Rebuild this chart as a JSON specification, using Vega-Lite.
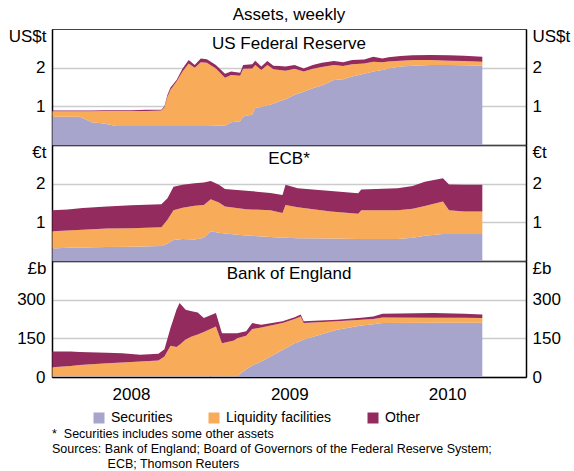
{
  "$schema": "https://vega.github.io/schema/vega-lite/v6.json",
  "autosize": {"type": "pad"},
  "padding": {"left": 7, "top": 5, "right": 0, "bottom": 0},
  "background": "white",
  "bounds": "flush",
  "spacing": 0,
  "config": {
    "font": "Liberation Sans",
    "view": {"stroke": "#444444", "strokeWidth": 1},
    "axis": {"labelFont": "Liberation Sans", "labelFontSize": 17, "labelColor": "black", "titleFont": "Liberation Sans", "titleFontSize": 17, "titleFontWeight": "normal", "titleColor": "black", "domainColor": "black", "domainWidth": 1.5, "tickColor": "black", "gridColor": "#cccccc", "gridWidth": 1.5},
    "title": {"font": "Liberation Sans", "fontWeight": "normal", "color": "black", "fontSize": 17, "subtitleFont": "Liberation Sans", "subtitleFontSize": 17, "subtitleColor": "black", "subtitleFontWeight": "normal"},
    "legend": {"labelFont": "Liberation Sans", "labelFontSize": 14, "labelColor": "black"}
  },
  "title": {
    "text": ["*\u00a0\u00a0Securities includes some other assets", "Sources: Bank of England; Board of Governors of the Federal Reserve System;", "\u200b\u00a0\u00a0\u00a0\u00a0\u00a0\u00a0\u00a0\u00a0\u00a0\u00a0\u00a0\u00a0\u00a0\u00a0\u00a0\u00a0ECB; Thomson Reuters"],
    "orient": "bottom", "anchor": "start", "frame": "group", "fontSize": 12.5, "lineHeight": 15, "dx": 0, "offset": 3
  },
  "datasets": {
    "order": [
      {"series": "Securities", "rank": 1},
      {"series": "Liquidity facilities", "rank": 2},
      {"series": "Other", "rank": 3}
    ],
    "fed": [
      {"date": "2008-01-02", "Securities": 0.73, "Liquidity facilities": 0.14, "Other": 0.02},
      {"date": "2008-03-05", "Securities": 0.73, "Liquidity facilities": 0.14, "Other": 0.02},
      {"date": "2008-04-02", "Securities": 0.59, "Liquidity facilities": 0.28, "Other": 0.02},
      {"date": "2008-04-30", "Securities": 0.556, "Liquidity facilities": 0.324, "Other": 0.02},
      {"date": "2008-05-28", "Securities": 0.49, "Liquidity facilities": 0.39, "Other": 0.02},
      {"date": "2008-07-02", "Securities": 0.49, "Liquidity facilities": 0.39, "Other": 0.02},
      {"date": "2008-08-06", "Securities": 0.49, "Liquidity facilities": 0.39, "Other": 0.03},
      {"date": "2008-09-10", "Securities": 0.49, "Liquidity facilities": 0.40, "Other": 0.02},
      {"date": "2008-09-17", "Securities": 0.49, "Liquidity facilities": 0.48, "Other": 0.03},
      {"date": "2008-09-24", "Securities": 0.49, "Liquidity facilities": 0.76, "Other": 0.05},
      {"date": "2008-10-01", "Securities": 0.49, "Liquidity facilities": 0.94, "Other": 0.06},
      {"date": "2008-10-15", "Securities": 0.49, "Liquidity facilities": 1.15, "Other": 0.04},
      {"date": "2008-10-29", "Securities": 0.49, "Liquidity facilities": 1.41, "Other": 0.08},
      {"date": "2008-11-12", "Securities": 0.49, "Liquidity facilities": 1.62, "Other": 0.09},
      {"date": "2008-11-26", "Securities": 0.49, "Liquidity facilities": 1.51, "Other": 0.07},
      {"date": "2008-12-10", "Securities": 0.49, "Liquidity facilities": 1.65, "Other": 0.10},
      {"date": "2008-12-24", "Securities": 0.49, "Liquidity facilities": 1.64, "Other": 0.09},
      {"date": "2009-01-14", "Securities": 0.50, "Liquidity facilities": 1.48, "Other": 0.09},
      {"date": "2009-02-04", "Securities": 0.50, "Liquidity facilities": 1.24, "Other": 0.10},
      {"date": "2009-02-18", "Securities": 0.59, "Liquidity facilities": 1.22, "Other": 0.09},
      {"date": "2009-03-11", "Securities": 0.615, "Liquidity facilities": 1.175, "Other": 0.08},
      {"date": "2009-03-18", "Securities": 0.74, "Liquidity facilities": 1.23, "Other": 0.10},
      {"date": "2009-04-08", "Securities": 0.79, "Liquidity facilities": 1.19, "Other": 0.11},
      {"date": "2009-04-15", "Securities": 0.96, "Liquidity facilities": 1.11, "Other": 0.11},
      {"date": "2009-04-29", "Securities": 0.98, "Liquidity facilities": 0.96, "Other": 0.09},
      {"date": "2009-05-13", "Securities": 1.03, "Liquidity facilities": 1.04, "Other": 0.10},
      {"date": "2009-05-27", "Securities": 1.07, "Liquidity facilities": 0.89, "Other": 0.09},
      {"date": "2009-06-10", "Securities": 1.13, "Liquidity facilities": 0.81, "Other": 0.10},
      {"date": "2009-06-24", "Securities": 1.18, "Liquidity facilities": 0.74, "Other": 0.11},
      {"date": "2009-07-15", "Securities": 1.30, "Liquidity facilities": 0.67, "Other": 0.10},
      {"date": "2009-08-05", "Securities": 1.38, "Liquidity facilities": 0.52, "Other": 0.08},
      {"date": "2009-08-26", "Securities": 1.47, "Liquidity facilities": 0.50, "Other": 0.10},
      {"date": "2009-09-16", "Securities": 1.54, "Liquidity facilities": 0.48, "Other": 0.11},
      {"date": "2009-10-14", "Securities": 1.68, "Liquidity facilities": 0.39, "Other": 0.10},
      {"date": "2009-11-04", "Securities": 1.70, "Liquidity facilities": 0.34, "Other": 0.10},
      {"date": "2009-11-25", "Securities": 1.77, "Liquidity facilities": 0.32, "Other": 0.11},
      {"date": "2009-12-23", "Securities": 1.84, "Liquidity facilities": 0.27, "Other": 0.10},
      {"date": "2010-01-13", "Securities": 1.90, "Liquidity facilities": 0.25, "Other": 0.13},
      {"date": "2010-02-03", "Securities": 1.94, "Liquidity facilities": 0.20, "Other": 0.10},
      {"date": "2010-02-17", "Securities": 1.98, "Liquidity facilities": 0.18, "Other": 0.11},
      {"date": "2010-03-17", "Securities": 2.03, "Liquidity facilities": 0.15, "Other": 0.12},
      {"date": "2010-04-14", "Securities": 2.05, "Liquidity facilities": 0.15, "Other": 0.12},
      {"date": "2010-05-26", "Securities": 2.07, "Liquidity facilities": 0.13, "Other": 0.13},
      {"date": "2010-07-07", "Securities": 2.07, "Liquidity facilities": 0.11, "Other": 0.14},
      {"date": "2010-08-11", "Securities": 2.06, "Liquidity facilities": 0.11, "Other": 0.14},
      {"date": "2010-09-22", "Securities": 2.05, "Liquidity facilities": 0.10, "Other": 0.13}
    ],
    "ecb": [
      {"date": "2008-01-02", "Securities": 0.325, "Liquidity facilities": 0.445, "Other": 0.54},
      {"date": "2008-02-06", "Securities": 0.34, "Liquidity facilities": 0.45, "Other": 0.54},
      {"date": "2008-03-12", "Securities": 0.35, "Liquidity facilities": 0.46, "Other": 0.56},
      {"date": "2008-05-07", "Securities": 0.36, "Liquidity facilities": 0.48, "Other": 0.57},
      {"date": "2008-07-02", "Securities": 0.37, "Liquidity facilities": 0.48, "Other": 0.59},
      {"date": "2008-09-10", "Securities": 0.385, "Liquidity facilities": 0.485, "Other": 0.60},
      {"date": "2008-09-24", "Securities": 0.45, "Liquidity facilities": 0.62, "Other": 0.55},
      {"date": "2008-10-08", "Securities": 0.54, "Liquidity facilities": 0.77, "Other": 0.61},
      {"date": "2008-10-29", "Securities": 0.57, "Liquidity facilities": 0.81, "Other": 0.59},
      {"date": "2008-11-26", "Securities": 0.556, "Liquidity facilities": 0.874, "Other": 0.58},
      {"date": "2008-12-17", "Securities": 0.60, "Liquidity facilities": 0.85, "Other": 0.58},
      {"date": "2009-01-02", "Securities": 0.77, "Liquidity facilities": 0.83, "Other": 0.47},
      {"date": "2009-01-21", "Securities": 0.73, "Liquidity facilities": 0.78, "Other": 0.46},
      {"date": "2009-02-04", "Securities": 0.71, "Liquidity facilities": 0.70, "Other": 0.45},
      {"date": "2009-03-25", "Securities": 0.66, "Liquidity facilities": 0.68, "Other": 0.48},
      {"date": "2009-05-20", "Securities": 0.62, "Liquidity facilities": 0.69, "Other": 0.45},
      {"date": "2009-06-17", "Securities": 0.60, "Liquidity facilities": 0.64, "Other": 0.47},
      {"date": "2009-06-24", "Securities": 0.60, "Liquidity facilities": 0.85, "Other": 0.52},
      {"date": "2009-07-22", "Securities": 0.59, "Liquidity facilities": 0.80, "Other": 0.49},
      {"date": "2009-10-07", "Securities": 0.58, "Liquidity facilities": 0.70, "Other": 0.53},
      {"date": "2009-12-09", "Securities": 0.57, "Liquidity facilities": 0.65, "Other": 0.53},
      {"date": "2009-12-16", "Securities": 0.57, "Liquidity facilities": 0.74, "Other": 0.54},
      {"date": "2010-03-10", "Securities": 0.57, "Liquidity facilities": 0.74, "Other": 0.57},
      {"date": "2010-04-14", "Securities": 0.60, "Liquidity facilities": 0.75, "Other": 0.59},
      {"date": "2010-05-12", "Securities": 0.65, "Liquidity facilities": 0.77, "Other": 0.63},
      {"date": "2010-06-23", "Securities": 0.70, "Liquidity facilities": 0.84, "Other": 0.60},
      {"date": "2010-07-07", "Securities": 0.70, "Liquidity facilities": 0.61, "Other": 0.67},
      {"date": "2010-08-11", "Securities": 0.70, "Liquidity facilities": 0.58, "Other": 0.69},
      {"date": "2010-09-22", "Securities": 0.70, "Liquidity facilities": 0.58, "Other": 0.69}
    ],
    "boe": [
      {"date": "2008-01-02", "Securities": 3, "Liquidity facilities": 35, "Other": 61},
      {"date": "2008-02-13", "Securities": 3, "Liquidity facilities": 40, "Other": 56},
      {"date": "2008-03-05", "Securities": 3, "Liquidity facilities": 44, "Other": 50},
      {"date": "2008-05-07", "Securities": 3, "Liquidity facilities": 50, "Other": 41},
      {"date": "2008-06-11", "Securities": 3, "Liquidity facilities": 53, "Other": 36},
      {"date": "2008-07-23", "Securities": 3, "Liquidity facilities": 57, "Other": 26},
      {"date": "2008-09-03", "Securities": 3, "Liquidity facilities": 61, "Other": 26},
      {"date": "2008-09-17", "Securities": 3, "Liquidity facilities": 77, "Other": 28},
      {"date": "2008-10-01", "Securities": 3, "Liquidity facilities": 118, "Other": 69},
      {"date": "2008-10-15", "Securities": 3, "Liquidity facilities": 113, "Other": 146},
      {"date": "2008-10-22", "Securities": 3, "Liquidity facilities": 122, "Other": 162},
      {"date": "2008-11-05", "Securities": 3, "Liquidity facilities": 142, "Other": 116},
      {"date": "2008-11-19", "Securities": 3, "Liquidity facilities": 154, "Other": 98},
      {"date": "2008-12-03", "Securities": 3, "Liquidity facilities": 162, "Other": 85},
      {"date": "2008-12-17", "Securities": 3, "Liquidity facilities": 172, "Other": 54},
      {"date": "2009-01-14", "Securities": 3, "Liquidity facilities": 193, "Other": 52},
      {"date": "2009-01-28", "Securities": 3, "Liquidity facilities": 128, "Other": 39},
      {"date": "2009-02-25", "Securities": 3, "Liquidity facilities": 139, "Other": 28},
      {"date": "2009-03-04", "Securities": 3, "Liquidity facilities": 147, "Other": 20},
      {"date": "2009-03-25", "Securities": 30, "Liquidity facilities": 130, "Other": 17},
      {"date": "2009-04-08", "Securities": 45, "Liquidity facilities": 141, "Other": 23},
      {"date": "2009-04-29", "Securities": 60, "Liquidity facilities": 132, "Other": 11},
      {"date": "2009-06-17", "Securities": 105, "Liquidity facilities": 104, "Other": 7},
      {"date": "2009-07-15", "Securities": 131, "Liquidity facilities": 94, "Other": 7},
      {"date": "2009-07-29", "Securities": 140, "Liquidity facilities": 95, "Other": 7},
      {"date": "2009-08-05", "Securities": 145, "Liquidity facilities": 64, "Other": 7},
      {"date": "2009-10-21", "Securities": 183, "Liquidity facilities": 33, "Other": 6},
      {"date": "2009-12-16", "Securities": 200, "Liquidity facilities": 22, "Other": 8},
      {"date": "2010-01-13", "Securities": 205, "Liquidity facilities": 20, "Other": 10},
      {"date": "2010-02-03", "Securities": 209, "Liquidity facilities": 22, "Other": 14},
      {"date": "2010-06-02", "Securities": 210, "Liquidity facilities": 20, "Other": 18},
      {"date": "2010-08-11", "Securities": 210, "Liquidity facilities": 20, "Other": 15},
      {"date": "2010-09-22", "Securities": 210, "Liquidity facilities": 19, "Other": 13}
    ]
  },
  "resolve": {"scale": {"color": "shared"}, "legend": {"color": "shared"}},
  "vconcat": [
    {
      "width": 474, "height": 116,
      "data": {"name": "fed"},
      "transform": [
        {"fold": ["Securities", "Liquidity facilities", "Other"], "as": ["series", "value"]},
        {"lookup": "series", "from": {"data": {"name": "order"}, "key": "series", "fields": ["rank"]}}
      ],
      "title": {"text": "Assets, weekly", "subtitle": "US Federal Reserve", "subtitlePadding": 12, "anchor": "middle", "frame": "group", "offset": -26},
      "encoding": {
        "x": {"field": "date", "type": "temporal", "scale": {"type": "utc", "nice": false, "domain": [{"year": 2008, "month": 1, "date": 1, "utc": true}, {"year": 2011, "month": 1, "date": 1, "utc": true}]}, "axis": {"labels": false, "ticks": false, "grid": false, "title": null}},
        "color": {"field": "series", "type": "nominal", "sort": ["Securities", "Liquidity facilities", "Other"], "scale": {"domain": ["Securities", "Liquidity facilities", "Other"], "range": ["#a7a5cc", "#f8ab58", "#932b5e"]},
          "legend": {"orient": "none", "legendX": 40, "legendY": 382, "direction": "horizontal", "title": null, "symbolType": "square", "symbolSize": 121, "symbolStrokeWidth": 0, "symbolOpacity": 1, "columnPadding": 34, "labelOffset": 5}},
        "order": {"field": "rank", "type": "quantitative", "sort": "ascending"}
      },
      "layer": [
        {"mark": {"type": "area", "opacity": 1}, "encoding": {"y": {"field": "value", "type": "quantitative", "stack": "zero", "scale": {"domain": [0, 3], "nice": false}, "axis": {"orient": "left", "values": [1, 2], "grid": true, "ticks": false, "labelPadding": 7, "title": "US$t", "titleAngle": 0, "titleAlign": "right", "titleBaseline": "middle", "titleX": -6, "titleY": 7}}}},
        {"mark": {"type": "area", "opacity": 0}, "encoding": {"y": {"field": "value", "type": "quantitative", "stack": "zero", "scale": {"domain": [0, 3], "nice": false}, "axis": {"orient": "right", "values": [1, 2], "grid": false, "ticks": false, "labelPadding": 6, "title": "US$t", "titleAngle": 0, "titleAlign": "left", "titleBaseline": "middle", "titleX": 6, "titleY": 7}}}}
      ],
      "resolve": {"axis": {"y": "independent"}}
    },
    {
      "width": 474, "height": 116,
      "data": {"name": "ecb"},
      "transform": [
        {"fold": ["Securities", "Liquidity facilities", "Other"], "as": ["series", "value"]},
        {"lookup": "series", "from": {"data": {"name": "order"}, "key": "series", "fields": ["rank"]}}
      ],
      "title": {"text": "ECB*", "anchor": "middle", "frame": "group", "offset": -25},
      "encoding": {
        "x": {"field": "date", "type": "temporal", "scale": {"type": "utc", "nice": false, "domain": [{"year": 2008, "month": 1, "date": 1, "utc": true}, {"year": 2011, "month": 1, "date": 1, "utc": true}]}, "axis": {"labels": false, "ticks": false, "grid": false, "title": null}},
        "color": {"field": "series", "type": "nominal", "sort": ["Securities", "Liquidity facilities", "Other"], "scale": {"domain": ["Securities", "Liquidity facilities", "Other"], "range": ["#a7a5cc", "#f8ab58", "#932b5e"]}},
        "order": {"field": "rank", "type": "quantitative", "sort": "ascending"}
      },
      "layer": [
        {"mark": {"type": "area", "opacity": 1}, "encoding": {"y": {"field": "value", "type": "quantitative", "stack": "zero", "scale": {"domain": [0, 3], "nice": false}, "axis": {"orient": "left", "values": [1, 2], "grid": true, "ticks": false, "labelPadding": 7, "title": "€t", "titleAngle": 0, "titleAlign": "right", "titleBaseline": "middle", "titleX": -6, "titleY": 7}}}},
        {"mark": {"type": "area", "opacity": 0}, "encoding": {"y": {"field": "value", "type": "quantitative", "stack": "zero", "scale": {"domain": [0, 3], "nice": false}, "axis": {"orient": "right", "values": [1, 2], "grid": false, "ticks": false, "labelPadding": 6, "title": "€t", "titleAngle": 0, "titleAlign": "left", "titleBaseline": "middle", "titleX": 6, "titleY": 7}}}}
      ],
      "resolve": {"axis": {"y": "independent"}}
    },
    {
      "width": 474, "height": 116,
      "data": {"name": "boe"},
      "transform": [
        {"fold": ["Securities", "Liquidity facilities", "Other"], "as": ["series", "value"]},
        {"lookup": "series", "from": {"data": {"name": "order"}, "key": "series", "fields": ["rank"]}}
      ],
      "title": {"text": "Bank of England", "anchor": "middle", "frame": "group", "offset": -24},
      "encoding": {
        "x": {"field": "date", "type": "temporal", "scale": {"type": "utc", "nice": false, "domain": [{"year": 2008, "month": 1, "date": 1, "utc": true}, {"year": 2011, "month": 1, "date": 1, "utc": true}]},
          "axis": {"values": [{"year": 2008, "month": 1, "date": 1, "utc": true}, {"year": 2009, "month": 1, "date": 1, "utc": true}, {"year": 2010, "month": 1, "date": 1, "utc": true}], "format": "%Y", "labelOffset": 79, "tickSize": -5, "tickWidth": 1, "labelPadding": 14, "labelFlush": false, "labelOverlap": false, "grid": false, "title": null}},
        "color": {"field": "series", "type": "nominal", "sort": ["Securities", "Liquidity facilities", "Other"], "scale": {"domain": ["Securities", "Liquidity facilities", "Other"], "range": ["#a7a5cc", "#f8ab58", "#932b5e"]}},
        "order": {"field": "rank", "type": "quantitative", "sort": "ascending"}
      },
      "layer": [
        {"mark": {"type": "area", "opacity": 1}, "encoding": {"y": {"field": "value", "type": "quantitative", "stack": "zero", "scale": {"domain": [0, 450], "nice": false}, "axis": {"orient": "left", "values": [0, 150, 300], "grid": true, "ticks": false, "labelPadding": 7, "title": "£b", "titleAngle": 0, "titleAlign": "right", "titleBaseline": "middle", "titleX": -6, "titleY": 7}}}},
        {"mark": {"type": "area", "opacity": 0}, "encoding": {"y": {"field": "value", "type": "quantitative", "stack": "zero", "scale": {"domain": [0, 450], "nice": false}, "axis": {"orient": "right", "values": [0, 150, 300], "grid": false, "ticks": false, "labelPadding": 6, "title": "£b", "titleAngle": 0, "titleAlign": "left", "titleBaseline": "middle", "titleX": 6, "titleY": 7}}}}
      ],
      "resolve": {"axis": {"y": "independent"}}
    }
  ]
}
